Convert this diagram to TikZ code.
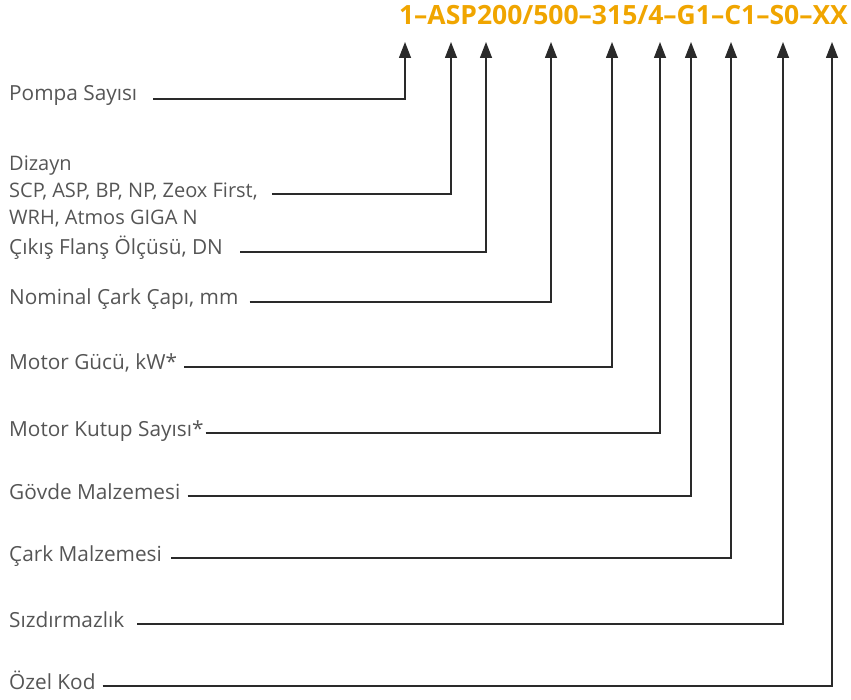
\documentclass[tikz,border=0pt]{standalone}
\usepackage{fontspec}
\setmainfont{Open Sans}
\usetikzlibrary{arrows.meta,positioning}
\definecolor{CodeOrange}{HTML}{F0A500}
\definecolor{LabelGray}{HTML}{555555}
\definecolor{LineDark}{HTML}{2A2A2A}
\tikzset{
  partlbl/.style={anchor=base west,inner sep=0pt,text=LabelGray,font=\fontsize{20.8}{20.8}\selectfont},
  smalllbl/.style={anchor=west,inner sep=0pt,text=LabelGray,align=left,font=\fontsize{20}{27}\selectfont},
  codetxt/.style={anchor=base east,inner sep=0pt,text=CodeOrange,font=\fontsize{26.5}{26.5}\selectfont\bfseries},
  link/.style={-{Triangle[length=16pt,width=12pt]},line width=1.4pt,draw=LineDark},
}

\begin{document}
\begin{tikzpicture}[x=1pt,y=-1pt]
  \useasboundingbox (0,0) rectangle (851,700);

  % type code
  \node[codetxt] (code) at (848,25) {1–ASP200/500–315/4–G1–C1–S0–XX};

  % arrow tips under the code
  \coordinate (tip1) at (405,42);
  \coordinate (tip2) at (451,42);
  \coordinate (tip3) at (486,42);
  \coordinate (tip4) at (551,42);
  \coordinate (tip5) at (612,42);
  \coordinate (tip6) at (660,42);
  \coordinate (tip7) at (691,42);
  \coordinate (tip8) at (731,42);
  \coordinate (tip9) at (783,42);
  \coordinate (tip10) at (832,42);

  % labels
  \node[partlbl] (pompa) at (9,101) {Pompa Sayısı};
  \node[smalllbl] (dizayn) at (9,191) {Dizayn\\SCP, ASP, BP, NP, Zeox First,\\WRH, Atmos GIGA N};
  \node[partlbl] (flans) at (9,255) {Çıkış Flanş Ölçüsü, DN};
  \node[partlbl] (cap) at (9,305) {Nominal Çark Çapı, mm};
  \node[partlbl] (guc) at (9,370) {Motor Gücü, kW*};
  \node[partlbl] (kutup) at (9,436) {Motor Kutup Sayısı*};
  \node[partlbl] (govde) at (9,499) {Gövde Malzemesi};
  \node[partlbl] (cark) at (9,561) {Çark Malzemesi};
  \node[partlbl] (sizd) at (9,627) {Sızdırmazlık};
  \node[partlbl] (ozel) at (9,689) {Özel Kod};

  % connectors
  \draw[link] ([xshift=16pt,yshift=2pt]pompa.base east) -| (tip1);
  \draw[link] ([xshift=14pt,yshift=-3pt]dizayn.east) -| (tip2);
  \draw[link] ([xshift=17pt,yshift=3pt]flans.base east) -| (tip3);
  \draw[link] ([xshift=11pt,yshift=3pt]cap.base east) -| (tip4);
  \draw[link] ([xshift=7pt,yshift=3pt]guc.base east) -| (tip5);
  \draw[link] ([xshift=2pt,yshift=3pt]kutup.base east) -| (tip6);
  \draw[link] ([xshift=7pt,yshift=3pt]govde.base east) -| (tip7);
  \draw[link] ([xshift=9pt,yshift=3pt]cark.base east) -| (tip8);
  \draw[link] ([xshift=13pt,yshift=3pt]sizd.base east) -| (tip9);
  \draw[link] ([xshift=7pt,yshift=3pt]ozel.base east) -| (tip10);
\end{tikzpicture}
\end{document}
